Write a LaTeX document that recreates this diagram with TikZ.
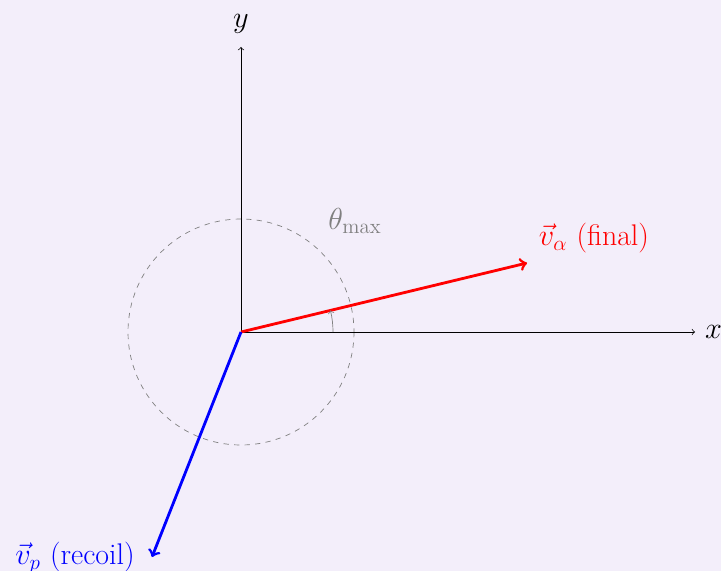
\documentclass[tikz,border=0pt]{standalone}
\usepackage{amsmath}
\definecolor{bg}{RGB}{243,238,250}
\begin{document}
\begin{tikzpicture}[x=0.02cm,y=-0.02cm,
  lbl/.style={font=\fontsize{17}{20}\selectfont, inner sep=1pt},
  axis/.style={->, thin, black},
  vec/.style={->, line width=1.6pt}]
\fill[bg] (0,0) rectangle (721,571);
\useasboundingbox (0,0) rectangle (721,571);
\coordinate (O) at (241,332);
\coordinate (xend) at (695,332);
\coordinate (yend) at (241,47);
\coordinate (aend) at (527,263);
\coordinate (pend) at (152,557);
\draw[gray, dashed] (O) circle[radius=113];
\draw[axis] (O) -- (xend);
\draw[axis] (O) -- (yend);
\node[lbl, anchor=west] (xl) at (703,332) {$x$};
\node[lbl] (yl) at (241,24) {$y$};
\draw[vec, red] (O) -- (aend);
\draw[vec, blue] (O) -- (pend);
\draw[->, gray] ([xshift=92*0.02cm]O) arc[start angle=0, end angle=13.56, radius=92*0.02cm];
\node[lbl, text=gray] (th) at (355,221) {$\theta_{\max}$};
\node[lbl, text=red] (al) at (594,238) {$\vec{v}_\alpha$ (final)};
\node[lbl, text=blue] (pl) at (75,558) {$\vec{v}_p$ (recoil)};
\end{tikzpicture}
\end{document}
